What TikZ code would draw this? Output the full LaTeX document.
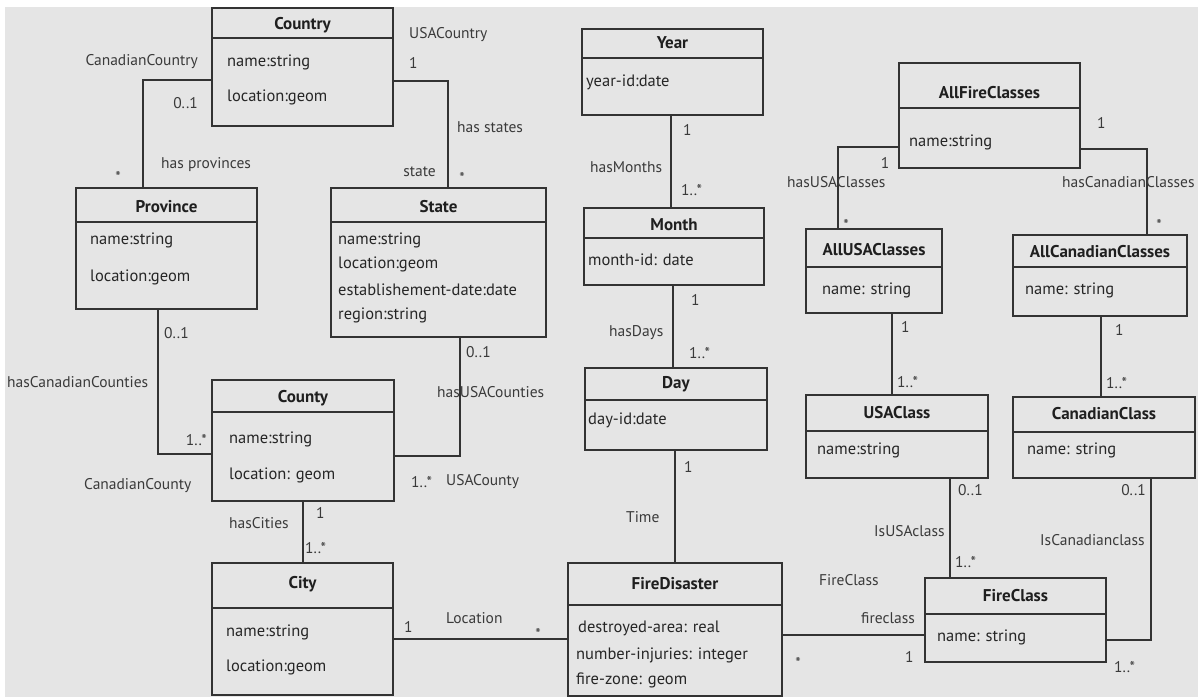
\documentclass[tikz,border=0pt]{standalone}
\usepackage{fontspec}
\setmainfont{PT Sans}
\definecolor{bg}{HTML}{E5E5E5}
\definecolor{ln}{HTML}{333333}
\definecolor{lbl}{HTML}{3A3A3A}
\tikzset{
  clsbox/.style={draw=ln, line width=1.5pt, inner sep=0pt, outer sep=0pt, rectangle},
  clstitle/.style={font=\bfseries\fontsize{17}{19}\selectfont, text=black!88, inner sep=0pt},
  attr/.style={font=\fontsize{16.5}{18}\selectfont, text=black!85, anchor=west, inner sep=0pt},
  lab/.style={font=\fontsize{15.5}{17}\selectfont, text=lbl, inner sep=0pt},
  conn/.style={draw=ln, line width=1.4pt},
}
\newcommand{\umlcls}[8]{%
  \node[clsbox, minimum width={(#4-#2)*1pt}, minimum height={(#5-#3)*1pt}] (#1) at ({(#2+#4)/2},{(#3+#5)/2}) {};
  \draw[ln, line width=1.5pt] (#1.west |- 0,#6) -- (#1.east |- 0,#6);
  \node[clstitle] (#1-t) at ({(#2+#4)/2},#7) {#8};
}
\begin{document}
\begin{tikzpicture}[x=1pt,y=-1pt]
\useasboundingbox (0,0) rectangle (1198,697);
\fill[white] (0,0) rectangle (1198,697);
\fill[bg] (5,7) rectangle (1198,697);

% ---------- classes ----------
\umlcls{country}{212}{8}{393}{126}{38}{25}{Country}
\node[attr] (country-a1) at (227,62) {name:string};
\node[attr] (country-a2) at (227,97) {location:geom};

\umlcls{province}{76}{188}{257}{309}{222}{207}{Province}
\node[attr] (province-a1) at (90,240) {name:string};
\node[attr] (province-a2) at (90,277) {location:geom};

\umlcls{state}{331}{188}{546}{337}{222}{207}{State}
\node[attr] (state-a1) at (338,240) {name:string};
\node[attr] (state-a2) at (338,264) {location:geom};
\node[attr] (state-a3) at (338,290) {establishement-date:date};
\node[attr] (state-a4) at (338,315) {region:string};

\umlcls{county}{212}{380}{394}{501}{412}{398}{County}
\node[attr] (county-a1) at (229,439) {name:string};
\node[attr] (county-a2) at (229,475) {location: geom};

\umlcls{city}{212}{563}{393}{695}{608}{584}{City}
\node[attr] (city-a1) at (226,632) {name:string};
\node[attr] (city-a2) at (226,667) {location:geom};

\umlcls{year}{582}{29}{763}{115}{58}{43}{Year}
\node[attr] (year-a1) at (586,82) {year-id:date};

\umlcls{month}{584}{208}{764}{285}{238}{225}{Month}
\node[attr] (month-a1) at (588,260) {month-id: date};

\umlcls{day}{585}{368}{767}{450}{400}{384}{Day}
\node[attr] (day-a1) at (588,420) {day-id:date};

\umlcls{fire}{568}{563}{782}{696}{605}{584}{FireDisaster}
\node[attr] (fire-a1) at (578,628) {destroyed-area: real};
\node[attr] (fire-a2) at (576,655) {number-injuries: integer};
\node[attr] (fire-a3) at (576,680) {fire-zone: geom};

\umlcls{allfire}{899}{63}{1080}{168}{108}{93}{AllFireClasses}
\node[attr] (allfire-a1) at (909,142) {name:string};

\umlcls{allusa}{806}{229}{942}{313}{267}{250}{AllUSAClasses}
\node[attr] (allusa-a1) at (822,290) {name: string};

\umlcls{allcan}{1013}{235}{1187}{316}{267}{252}{AllCanadianClasses}
\node[attr] (allcan-a1) at (1025,290) {name: string};

\umlcls{usacls}{806}{395}{988}{478}{431}{413}{USAClass}
\node[attr] (usacls-a1) at (817,450) {name:string};

\umlcls{cancls}{1013}{397}{1195}{478}{432}{414}{CanadianClass}
\node[attr] (cancls-a1) at (1027,450) {name: string};

\umlcls{firecls}{925}{578}{1106}{662}{614}{596}{FireClass}
\node[attr] (firecls-a1) at (937,637) {name: string};

% ---------- connectors ----------
\draw[conn] (country.west |- 0,80) -- (143,80) -- (province.north -| 143,0);
\draw[conn] (country.east |- 0,81) -- (448,81) -- (state.north -| 448,0);
\draw[conn] (province.south -| 158,0) -- (158,454) -- (county.west |- 0,454);
\draw[conn] (state.south -| 460,0) -- (460,456) -- (county.east |- 0,456);
\draw[conn] (county.south -| 303,0) -- (city.north -| 303,0);
\draw[conn] (city.east |- 0,639) -- (fire.west |- 0,639);
\draw[conn] (year.south -| 671,0) -- (month.north -| 671,0);
\draw[conn] (month.south -| 673,0) -- (day.north -| 673,0);
\draw[conn] (day.south -| 675,0) -- (fire.north -| 675,0);
\draw[conn] (allfire.west |- 0,147) -- (838,147) -- (allusa.north -| 838,0);
\draw[conn] (allfire.east |- 0,149) -- (1147,149) -- (allcan.north -| 1147,0);
\draw[conn] (allusa.south -| 892,0) -- (usacls.north -| 892,0);
\draw[conn] (allcan.south -| 1101,0) -- (cancls.north -| 1101,0);
\draw[conn] (usacls.south -| 950,0) -- (firecls.north -| 950,0);
\draw[conn] (cancls.south -| 1151,0) -- (1151,640) -- (firecls.east |- 0,640);
\draw[conn] (fire.east |- 0,635) -- (firecls.west |- 0,635);

% ---------- labels ----------
\node[lab, anchor=east] (l1) at (198,62) {CanadianCountry};
\node[lab, anchor=west] (l2) at (409,35) {USACountry};
\node[lab, anchor=west] (l3) at (409,63) {1};
\node[lab, anchor=east] (l4) at (198,103) {0..1};
\node[lab, anchor=west] (l5) at (457,127) {has states};
\node[lab, anchor=west] (l6) at (161,165) {has provinces};
\node[lab] (l7) at (118,177) {*};
\node[lab, anchor=east] (l8) at (436,172) {state};
\node[lab] (l9) at (462,178) {*};
\node[lab, anchor=west] (l10) at (164,333) {0..1};
\node[lab, anchor=west] (l11) at (466,352) {0..1};
\node[lab, anchor=west] (l12) at (7,382) {hasCanadianCounties};
\node[lab, anchor=east] (l13) at (207,440) {1..*};
\node[lab, anchor=west] (l14) at (437,392) {hasUSACounties};
\node[lab, anchor=west] (l15) at (411,482) {1..*};
\node[lab, anchor=west] (l16) at (446,482) {USACounty};
\node[lab, anchor=west] (l17) at (84,486) {CanadianCounty};
\node[lab, anchor=west] (l18) at (316,513) {1};
\node[lab, anchor=west] (l19) at (229,523) {hasCities};
\node[lab, anchor=west] (l20) at (305,548) {1..*};
\node[lab, anchor=west] (l21) at (404,627) {1};
\node[lab, anchor=west] (l22) at (446,618) {Location};
\node[lab] (l23) at (538,634) {*};
\node[lab, anchor=west] (l24) at (683,130) {1};
\node[lab, anchor=west] (l25) at (590,167) {hasMonths};
\node[lab, anchor=west] (l26) at (681,190) {1..*};
\node[lab, anchor=west] (l27) at (691,300) {1};
\node[lab, anchor=west] (l28) at (609,333) {hasDays};
\node[lab, anchor=west] (l29) at (689,353) {1..*};
\node[lab, anchor=west] (l30) at (684,467) {1};
\node[lab, anchor=west] (l31) at (626,517) {Time};
\node[lab] (l32) at (885,163) {1};
\node[lab, anchor=west] (l33) at (787,182) {hasUSAClasses};
\node[lab] (l34) at (846,225) {*};
\node[lab, anchor=west] (l35) at (1097,123) {1};
\node[lab, anchor=west] (l36) at (1062,182) {hasCanadianClasses};
\node[lab] (l37) at (1159,225) {*};
\node[lab, anchor=west] (l38) at (901,327) {1};
\node[lab, anchor=west] (l39) at (897,382) {1..*};
\node[lab, anchor=west] (l40) at (1115,330) {1};
\node[lab, anchor=west] (l41) at (1106,383) {1..*};
\node[lab, anchor=west] (l42) at (958,490) {0..1};
\node[lab, anchor=west] (l43) at (874,531) {IsUSAclass};
\node[lab, anchor=west] (l44) at (955,562) {1..*};
\node[lab, anchor=east] (l45) at (1146,490) {0..1};
\node[lab, anchor=west] (l46) at (1040,540) {IsCanadianclass};
\node[lab, anchor=west] (l47) at (1114,667) {1..*};
\node[lab, anchor=west] (l48) at (819,580) {FireClass};
\node[lab, anchor=west] (l49) at (861,618) {fireclass};
\node[lab] (l50) at (798,663) {*};
\node[lab, anchor=west] (l51) at (905,657) {1};
\end{tikzpicture}
\end{document}
